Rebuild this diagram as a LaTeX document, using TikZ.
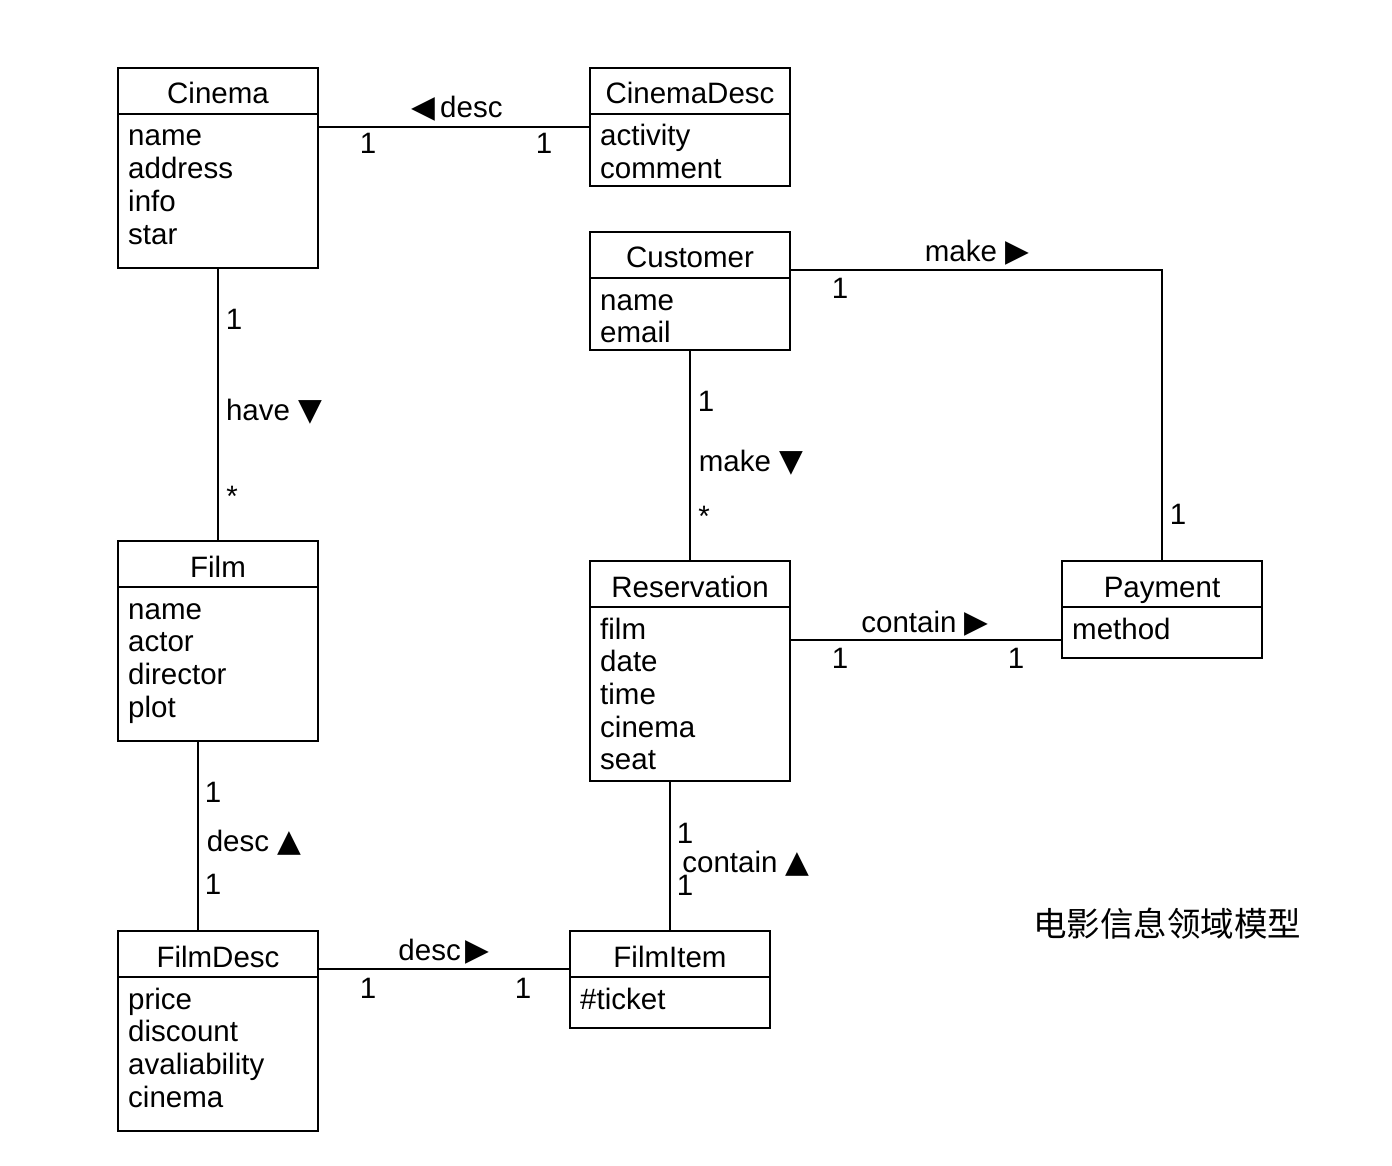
\documentclass[tikz,border=0pt]{standalone}
\usepackage{fontspec}
\setmainfont{Liberation Sans}
\newfontfamily\symf{DejaVu Sans}
\newfontfamily\cjk{Noto Sans CJK SC}
\newcommand{\tri}[1]{{\symf\fontsize{31}{31}\selectfont #1}}
\newcommand{\attrlist}[1]{\begin{tabular}[t]{@{}l@{}}#1\end{tabular}}
\begin{document}
\begin{tikzpicture}[x=1pt,y=-1pt,
  cls/.style={draw, line width=1.5pt, anchor=north west, inner sep=0pt, outer sep=0pt, minimum width=200pt},
  ttl/.style={anchor=base, inner sep=0pt, font=\fontsize{29.5}{33}\selectfont},
  attr/.style={anchor=base west, inner sep=0pt, font=\fontsize{29.5}{32.7}\selectfont},
  lbl/.style={anchor=base, inner sep=0pt, font=\fontsize{29.5}{33}\selectfont},
  conn/.style={line width=1.5pt}]
\useasboundingbox (0,0) rectangle (1392,1166);
% classes
\node[cls, minimum height=200pt] (cinema) at (118,68) {};
\node[cls, minimum height=118pt] (cinemadesc) at (590,68) {};
\node[cls, minimum height=118pt] (customer) at (590,232) {};
\node[cls, minimum height=200pt] (film) at (118,541) {};
\node[cls, minimum height=220pt] (reservation) at (590,561) {};
\node[cls, minimum height=97pt] (payment) at (1062,561) {};
\node[cls, minimum height=200pt] (filmdesc) at (118,931) {};
\node[cls, minimum height=97pt] (filmitem) at (570,931) {};
\foreach \c in {cinema,cinemadesc,customer,film,reservation,payment,filmdesc,filmitem}{
  \draw[conn] ([yshift=-46pt]\c.north west) -- ([yshift=-46pt]\c.north east);
}
% titles
\node[ttl] (tcinema) at (218,104) {Cinema};
\node[ttl] (tcinemadesc) at (690,104) {CinemaDesc};
\node[ttl] (tcustomer) at (690,268) {Customer};
\node[ttl] (tfilm) at (218,577) {Film};
\node[ttl] (treservation) at (690,597) {Reservation};
\node[ttl] (tpayment) at (1162,597) {Payment};
\node[ttl] (tfilmdesc) at (218,967) {FilmDesc};
\node[ttl] (tfilmitem) at (670,967) {FilmItem};
% attributes
\node[attr] (acinema) at (128,146) {\attrlist{name\\address\\info\\star}};
\node[attr] (acinemadesc) at (600,146) {\attrlist{activity\\comment}};
\node[attr] (acustomer) at (600,310) {\attrlist{name\\email}};
\node[attr] (afilm) at (128,619) {\attrlist{name\\actor\\director\\plot}};
\node[attr] (areservation) at (600,639) {\attrlist{film\\date\\time\\cinema\\seat}};
\node[attr] (apayment) at (1072,639) {method};
\node[attr] (afilmdesc) at (128,1009) {\attrlist{price\\discount\\avaliability\\cinema}};
\node[attr] (afilmitem) at (580,1009) {\#ticket};
% connectors
\draw[conn] ([yshift=-59pt]cinema.north east) -- ([yshift=-59pt]cinemadesc.north west);
\draw[conn] (cinema.south) -- (film.north);
\draw[conn] ([yshift=-38pt]customer.north east) -| (payment.north);
\draw[conn] (customer.south) -- (reservation.north);
\draw[conn] ([yshift=-79pt]reservation.north east) -- ([yshift=-79pt]payment.north west);
\draw[conn] ([xshift=-20pt]film.south) -- ([xshift=-20pt]filmdesc.north);
\draw[conn] ([xshift=-20pt]reservation.south) -- (filmitem.north);
\draw[conn] ([yshift=-38pt]filmdesc.north east) -- ([yshift=-38pt]filmitem.north west);
% labels
\node[lbl] (l1) at (457,118) {\tri{◀}\,desc};
\node[lbl] (l1a) at (368,154) {1};
\node[lbl] (l1b) at (544,154) {1};
\node[lbl] (l2a) at (234,329) {1};
\node[lbl] (l2) at (274,420) {have \tri{▼}};
\node[lbl] (l2b) at (232,506) {*};
\node[lbl] (l3) at (977,262) {make \tri{▶}};
\node[lbl] (l3a) at (840,299) {1};
\node[lbl] (l3b) at (1178,524) {1};
\node[lbl] (l4a) at (706,411) {1};
\node[lbl] (l4) at (751,471) {make \tri{▼}};
\node[lbl] (l4b) at (704,526) {*};
\node[lbl] (l5) at (925,632) {contain \tri{▶}};
\node[lbl] (l5a) at (840,668) {1};
\node[lbl] (l5b) at (1016,668) {1};
\node[lbl] (l6a) at (213,802) {1};
\node[lbl] (l6) at (254,851) {desc \tri{▲}};
\node[lbl] (l6b) at (213,894) {1};
\node[lbl] (l7a) at (685,843) {1};
\node[lbl] (l7) at (746,872) {contain \tri{▲}};
\node[lbl] (l7b) at (685,895) {1};
\node[lbl] (l8) at (444,960) {desc\,\tri{▶}};
\node[lbl] (l8a) at (368,998) {1};
\node[lbl] (l8b) at (523,998) {1};
\node[inner sep=0pt, font=\cjk\fontsize{33.5}{34}\selectfont] (caption) at (1167,924) {电影信息领域模型};
\end{tikzpicture}
\end{document}
